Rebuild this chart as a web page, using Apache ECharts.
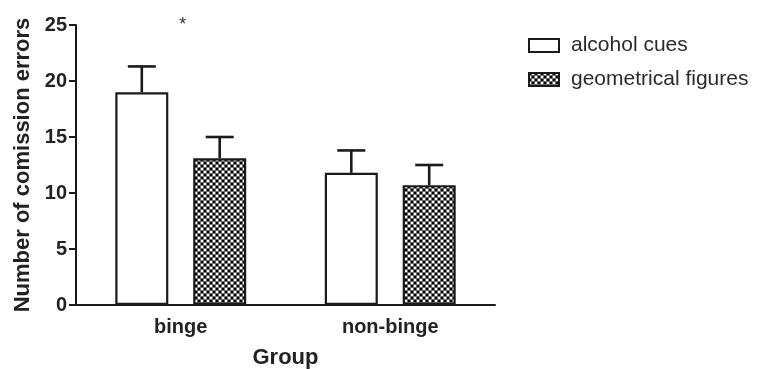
<!DOCTYPE html>
<html>
<head>
<meta charset="utf-8">
<script src="https://cdn.jsdelivr.net/npm/echarts@6/dist/echarts.min.js"></script>
<style>
  html, body { margin: 0; padding: 0; background: #fff; }
  #chart { width: 765px; height: 369px; }
</style>
</head>
<body>
<div id="chart"></div>
<script>
// Commission errors by drinking group and cue type (mean + SEM)
const groups = ['binge', 'non-binge'];
const seriesNames = ['alcohol cues', 'geometrical figures'];
const alcoholMean = [19.0, 11.8];
const alcoholSem = [2.3, 2.0];
const geometricMean = [13.1, 10.7];
const geometricSem = [1.9, 1.8];
const yTicks = [0, 5, 10, 15, 20, 25];
// significance marker: group and height of the asterisk
const sigGroups = ['binge'];
const sigLevel = 25.0;

const BAR_WIDTH = 53;
const BAR_GAP = 0.47;
const INK = '#1a1a1a';

// checkered fill used for the geometrical-figures bars
function makeChecker() {
  const c = document.createElement('canvas');
  c.width = 6; c.height = 6;
  const g = c.getContext('2d');
  g.fillStyle = '#6e6e6e';
  g.fillRect(0, 0, 6, 6);
  g.fillStyle = '#000';
  g.fillRect(0, 0, 2, 2);
  g.fillRect(3, 3, 2, 2);
  g.fillStyle = '#fff';
  g.fillRect(3, 0, 2, 2);
  g.fillRect(0, 3, 2, 2);
  return c;
}
const checker = { image: makeChecker(), repeat: 'repeat' };

function errorSeries(means, sems, side) {
  const data = means.map((m, i) => [i, m, m + sems[i]]);
  const offset = side * BAR_WIDTH * (1 + BAR_GAP) / 2;
  return {
    type: 'custom',
    z: 5,
    silent: true,
    data: data,
    encode: { x: 0, y: [1, 2] },
    renderItem: function (params, api) {
      const base = api.coord([api.value(0), api.value(1)]);
      const top = api.coord([api.value(0), api.value(2)]);
      const cx = base[0] + offset;
      const half = 14;
      const style = { stroke: INK, lineWidth: 2.6 };
      return {
        type: 'group',
        children: [
          { type: 'line', shape: { x1: cx, y1: base[1], x2: cx, y2: top[1] }, style: style },
          { type: 'line', shape: { x1: cx - half, y1: top[1], x2: cx + half, y2: top[1] }, style: style }
        ]
      };
    }
  };
}

const chart = echarts.init(document.getElementById('chart'));
chart.setOption({
  animation: false,
  textStyle: { fontFamily: 'Liberation Sans, Arial, sans-serif' },
  grid: { left: 76, top: 25, width: 419, height: 280, outerBoundsMode: 'none' },
  legend: {
    orient: 'vertical',
    left: 523,
    top: 30,
    itemWidth: 30,
    itemHeight: 13,
    itemGap: 13,
    icon: 'rect',
    data: seriesNames,
    textStyle: { fontSize: 21, color: '#2a2a2a', lineHeight: 21, padding: [0, 0, 0, 7] }
  },
  xAxis: {
    type: 'category',
    data: groups,
    name: 'Group',
    nameLocation: 'middle',
    nameGap: 42,
    nameTextStyle: { fontSize: 22, fontWeight: 'bold', color: '#222' },
    axisLine: { lineStyle: { color: INK, width: 2 } },
    axisTick: { alignWithLabel: true, length: 8, lineStyle: { color: INK, width: 2 } },
    axisLabel: { fontSize: 20, fontWeight: 'bold', color: '#222', margin: 12 }
  },
  yAxis: {
    type: 'value',
    min: yTicks[0],
    max: yTicks[yTicks.length - 1],
    interval: yTicks[1] - yTicks[0],
    name: 'Number of comission errors',
    nameLocation: 'middle',
    nameRotate: 90,
    nameGap: 42,
    nameTextStyle: { fontSize: 22, fontWeight: 'bold', color: '#222' },
    axisLine: { show: true, lineStyle: { color: INK, width: 2 } },
    axisTick: { show: true, length: 7, lineStyle: { color: INK, width: 2 } },
    axisLabel: { fontSize: 20, fontWeight: 'bold', color: '#222', margin: 9 },
    splitLine: { show: false }
  },
  series: [
    {
      name: seriesNames[0],
      type: 'bar',
      data: alcoholMean,
      barWidth: BAR_WIDTH,
      barGap: (BAR_GAP * 100) + '%',
      itemStyle: { color: '#fff', borderColor: INK, borderWidth: 2.2 }
    },
    {
      name: seriesNames[1],
      type: 'bar',
      data: geometricMean,
      barWidth: BAR_WIDTH,
      barGap: (BAR_GAP * 100) + '%',
      itemStyle: { color: checker, borderColor: INK, borderWidth: 2.2 }
    },
    errorSeries(alcoholMean, alcoholSem, -1),
    errorSeries(geometricMean, geometricSem, 1)
  ]
});

// asterisk above the significant group
const marks = sigGroups.map(function (g) {
  const p = chart.convertToPixel({ xAxisIndex: 0, yAxisIndex: 0 }, [g, sigLevel]);
  return {
    type: 'text',
    x: p[0] + 2,
    y: p[1],
    style: { text: '*', font: '18px Liberation Sans, Arial, sans-serif', fill: '#333', align: 'center', verticalAlign: 'middle' }
  };
});
chart.setOption({ graphic: marks });
</script>
</body>
</html>
